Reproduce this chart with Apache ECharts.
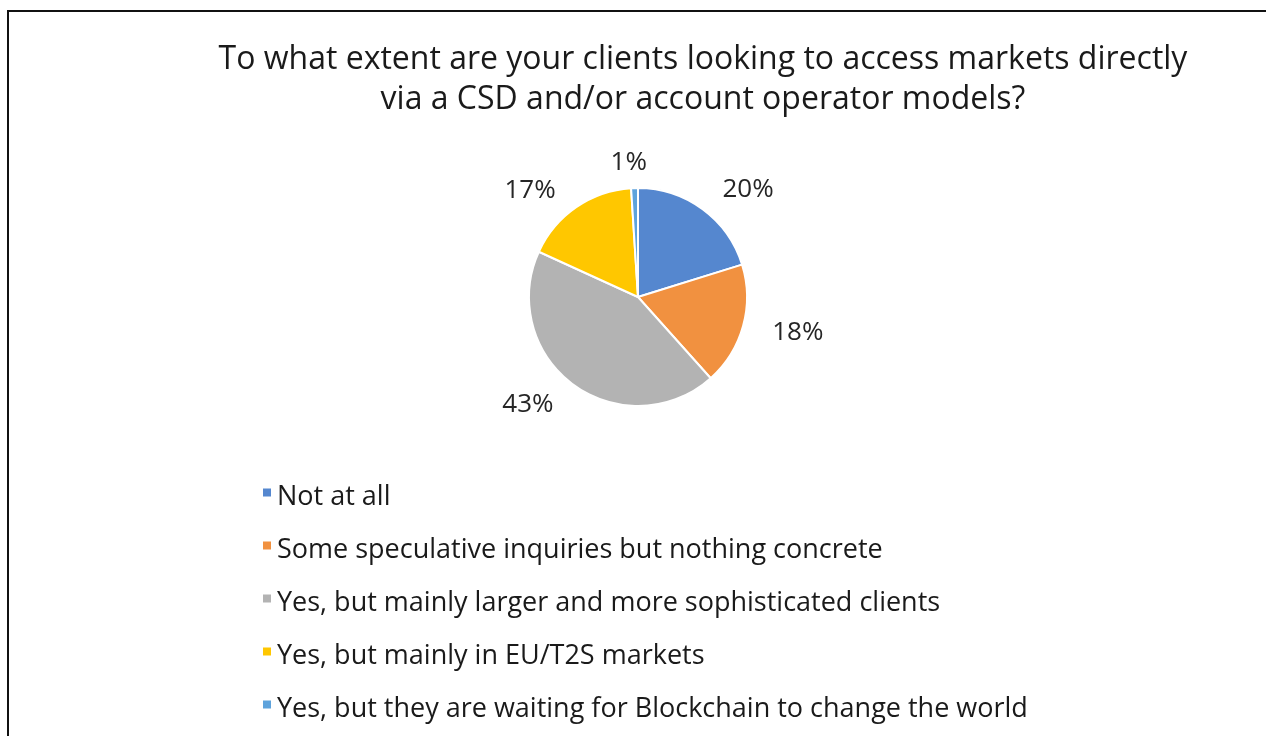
<!DOCTYPE html>
<html>
<head>
<meta charset="utf-8">
<script src="https://cdn.jsdelivr.net/npm/echarts@6/dist/echarts.min.js"></script>
<style>
  html, body { margin: 0; padding: 0; background: #fff; }
  #chart { position: absolute; left: 0; top: 0; width: 1266px; height: 736px; }
  #frame { position: absolute; left: 7px; top: 10px; right: -4px; bottom: -4px;
           border-left: 2px solid #111; border-top: 2px solid #111; pointer-events: none; }
</style>
</head>
<body>
<div id="chart"></div>
<div id="frame"></div>
<script>
// Survey answers and their shares (percent)
const categories = [
  'Not at all',
  'Some speculative inquiries but nothing concrete',
  'Yes, but mainly larger and more sophisticated clients',
  'Yes, but mainly in EU/T2S markets',
  'Yes, but they are waiting for Blockchain to change the world'
];
const shares = [20, 18, 43, 17, 1];
const colors = ['#5587CF', '#F19140', '#B3B3B3', '#FFC700', '#5EA3DC'];

const FONT = '"Open Sans", "Noto Sans", sans-serif';

// small square legend marker sitting above the text's middle
const MARKER = 'path://M0,0h8v8h-8z M0,18L0.01,18';

const chart = echarts.init(document.getElementById('chart'));
chart.setOption({
  animation: false,
  color: colors,
  title: {
    text: 'To what extent are your clients looking to access markets directly\nvia a CSD and/or account operator models?',
    left: 698,
    top: 35,
    textAlign: 'center',
    textStyle: { fontFamily: FONT, fontSize: 32, fontWeight: 'normal', color: '#1a1a1a', lineHeight: 40 }
  },
  legend: {
    orient: 'vertical',
    left: 258,
    top: 479,
    height: 300,
    itemWidth: 8,
    itemHeight: 18,
    itemGap: 26,
    icon: MARKER,
    selectedMode: false,
    itemStyle: { borderWidth: 0 },
    textStyle: { fontFamily: FONT, fontSize: 27, color: '#1a1a1a', padding: [0, 0, 0, 1] },
    data: categories
  },
  series: [{
    type: 'pie',
    center: [638, 297],
    radius: 109,
    startAngle: 90,
    clockwise: true,
    itemStyle: { borderColor: '#fff', borderWidth: 2 },
    label: {
      show: true,
      position: 'outside',
      formatter: '{c}%',
      fontFamily: FONT,
      fontSize: 26,
      color: '#262626'
    },
    labelLine: { show: false, length: 25, length2: 0 },
    // the thin top slice keeps its label centred over it
    labelLayout: function (params) {
      return params.dataIndex === 4 ? { align: 'center' } : {};
    },
    data: categories.map((name, i) => ({ name, value: shares[i] }))
  }]
});
</script>
</body>
</html>
